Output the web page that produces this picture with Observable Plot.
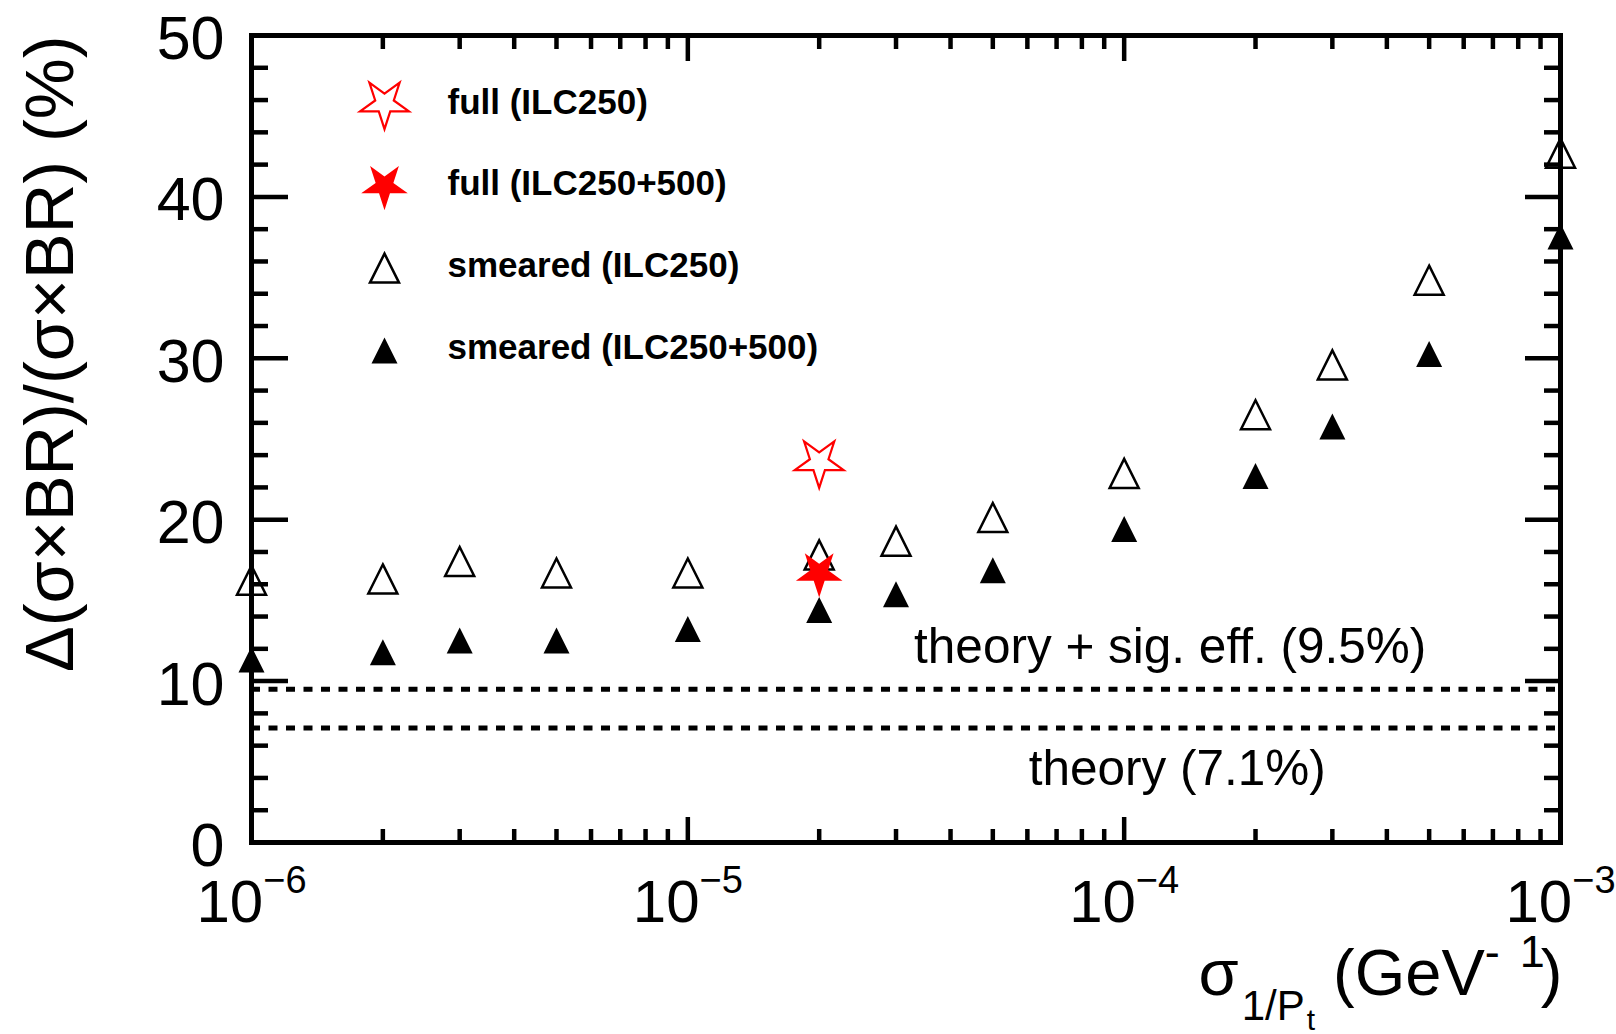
<!DOCTYPE html>
<html>
<head>
<meta charset="utf-8">
<script src="https://cdn.jsdelivr.net/npm/d3@7"></script>
<script src="https://cdn.jsdelivr.net/npm/@observablehq/plot@0.6"></script>
<style>
  html, body { margin: 0; padding: 0; background: #fff; }
  #chart svg { display: block; }
</style>
</head>
<body>
<div id="chart"></div>
<script>
// ---------------- data ----------------
const sigmaPt = [1e-6, 2e-6, 3e-6, 5e-6, 1e-5, 2e-5, 3e-5, 5e-5, 1e-4, 2e-4, 3e-4, 5e-4, 1e-3];
const smeared250 = [16.25, 16.33, 17.41, 16.70, 16.70, 17.82, 18.67, 20.14, 22.87, 26.50, 29.59, 34.84, 42.71];
const smeared250500 = [11.34, 11.78, 12.52, 12.52, 13.23, 14.41, 15.38, 16.87, 19.42, 22.70, 25.77, 30.27, 37.55];
const fullSigmaPt = [2e-5];
const full250 = [23.56];
const full250500 = [16.69];

const theoryLevels = [9.5, 7.1];
const theoryLabels = ["theory + sig. eff. (9.5%)", "theory (7.1%)"];
const theoryLabelX = [3.3e-5, 6.04e-5];
const theoryLabelY = [11.1, 3.56];

const legendLabels = ["full (ILC250)", "full (ILC250+500)", "smeared (ILC250)", "smeared (ILC250+500)"];

const yTicks = [0, 10, 20, 30, 40, 50];
const yMinorTicks = [2, 4, 6, 8, 12, 14, 16, 18, 22, 24, 26, 28, 32, 34, 36, 38, 42, 44, 46, 48];
const xDecades = [1e-6, 1e-5, 1e-4, 1e-3];
const xTickExponents = ["−6", "−5", "−4", "−3"];
const xMinorMultipliers = [2, 3, 4, 5, 6, 7, 8, 9];
const xMinorTicks = xDecades.slice(0, 3).flatMap(d => xMinorMultipliers.map(m => m * d));

const yTitle = "Δ(σ×BR)/(σ×BR) (%)";
const xTitle = "σ1/Pt (GeV-1)";

// ---------------- symbols (ROOT-like markers) ----------------
const triSymbol = {
  draw(ctx, size) {
    const r = Math.sqrt(size / Math.PI);
    ctx.moveTo(0, -r); ctx.lineTo(r, r); ctx.lineTo(-r, r); ctx.closePath();
  }
};
const starSymbol = {
  draw(ctx, size) {
    const R = Math.sqrt(size / Math.PI), k = 0.38;
    for (let i = 0; i < 10; i++) {
      const a = Math.PI / 2 + i * Math.PI / 5;
      const rr = i % 2 ? R * k : R;
      const x = rr * Math.cos(a), y = rr * Math.sin(a);
      if (i) ctx.lineTo(x, y); else ctx.moveTo(x, y);
    }
    ctx.closePath();
  }
};

const openTri = {symbol: triSymbol, r: 14.5, fill: "none", stroke: "black", strokeWidth: 2.5};
const fullTri = {symbol: triSymbol, r: 13, fill: "black", stroke: "none"};
const openStar = {symbol: starSymbol, r: 25.7, fill: "none", stroke: "#ff0000", strokeWidth: 2.2};
const fullStar = {symbol: starSymbol, r: 24.5, fill: "#ff0000", stroke: "none"};
const legendStyles = [openStar, fullStar, openTri, fullTri];

const rowsOpen = sigmaPt.map((x, i) => ({x, y: smeared250[i]}));
const rowsFull = sigmaPt.map((x, i) => ({x, y: smeared250500[i]}));
const rowsStarOpen = fullSigmaPt.map((x, i) => ({x, y: full250[i]}));
const rowsStarFull = fullSigmaPt.map((x, i) => ({x, y: full250500[i]}));

const tickStyle = {strokeWidth: 4.5, tickFormat: () => "", label: null};

const legendMarks = legendLabels.flatMap((lab, i) => [
  Plot.dot([lab], {frameAnchor: "top-left", dx: 133, dy: 68 + i * 82.3, ...legendStyles[i]}),
  Plot.text([lab], {frameAnchor: "top-left", dx: 196, dy: 78.3 + i * 81.6, text: d => d,
    textAnchor: "start", lineAnchor: "bottom", fontSize: 35, fontWeight: "bold", fill: "black"})
]);

const chart = Plot.plot({
  width: 1616,
  height: 1034,
  marginLeft: 251,
  marginRight: 56,
  marginTop: 35,
  marginBottom: 192,
  style: {fontFamily: "'Liberation Sans', Arial, Helvetica, sans-serif", background: "#fff", color: "black"},
  x: {type: "log", domain: [1e-6, 1e-3]},
  y: {domain: [0, 50]},
  marks: [
    // inward ticks on all four sides
    Plot.axisY(yTicks, {anchor: "left", tickSize: -37, ...tickStyle}),
    Plot.axisY(yMinorTicks, {anchor: "left", tickSize: -17, ...tickStyle}),
    Plot.axisY(yTicks, {anchor: "right", tickSize: -36, ...tickStyle}),
    Plot.axisY(yMinorTicks, {anchor: "right", tickSize: -17, ...tickStyle}),
    Plot.axisX(xDecades, {anchor: "bottom", tickSize: -25, ...tickStyle}),
    Plot.axisX(xMinorTicks, {anchor: "bottom", tickSize: -13, ...tickStyle}),
    Plot.axisX(xDecades, {anchor: "top", tickSize: -25, ...tickStyle}),
    Plot.axisX(xMinorTicks, {anchor: "top", tickSize: -13, ...tickStyle}),
    // tick labels
    Plot.axisY(yTicks, {anchor: "left", tickSize: 0, tickPadding: 27, fontSize: 61, dy: 4, label: null}),
    Plot.axisX(xDecades, {anchor: "bottom", tickSize: 0, tickPadding: 37, fontSize: 60, label: null,
      tickFormat: d => "10^" + xTickExponents[xDecades.indexOf(d)]}),
    // frame
    Plot.frame({stroke: "black", strokeWidth: 5}),
    // theory lines
    Plot.ruleY(theoryLevels, {stroke: "black", strokeWidth: 5, strokeDasharray: "9,8.5"}),
    Plot.text(theoryLabels, {x: (d, i) => theoryLabelX[i], y: (d, i) => theoryLabelY[i], text: d => d,
      textAnchor: "start", lineAnchor: "bottom", fontSize: 49.5, fill: "black"}),
    // data
    Plot.dot(rowsOpen, {x: "x", y: "y", ...openTri}),
    Plot.dot(rowsFull, {x: "x", y: "y", ...fullTri}),
    Plot.dot(rowsStarFull, {x: "x", y: "y", ...fullStar}),
    Plot.dot(rowsStarOpen, {x: "x", y: "y", ...openStar}),
    // legend
    ...legendMarks,
    // axis titles
    Plot.text([yTitle], {frameAnchor: "top-left", dx: -179, dy: 0, rotate: -90, text: d => d,
      textAnchor: "end", lineAnchor: "bottom", fontSize: 68.5, fill: "black"}),
    Plot.text([xTitle], {frameAnchor: "bottom-right", dx: -362, dy: 152, text: d => d,
      textAnchor: "start", lineAnchor: "bottom", fontSize: 65, fill: "black"})
  ]
});

// ---- rich text (superscripts / subscripts) ----
const NS = "http://www.w3.org/2000/svg";
function setRich(t, parts) {
  while (t.firstChild) t.removeChild(t.firstChild);
  for (const p of parts) {
    const s = document.createElementNS(NS, "tspan");
    s.textContent = p.t;
    if (p.size) s.setAttribute("font-size", p.size);
    if (p.dy) s.setAttribute("dy", p.dy);
    if (p.dx) s.setAttribute("dx", p.dx);
    t.appendChild(s);
  }
}
chart.querySelectorAll("text").forEach(t => {
  const txt = t.textContent;
  const m = /^10\^(.+)$/.exec(txt);
  if (m) {
    setRich(t, [{t: "10"}, {t: m[1], size: 38, dy: -29}]);
  } else if (txt === xTitle) {
    setRich(t, [
      {t: "σ"},
      {t: "1/P", size: 42, dy: 25, dx: 3},
      {t: "t", size: 30, dy: 10, dx: 2},
      {t: " (GeV", size: 65, dy: -35},
      {t: "-", size: 45, dy: -28},
      {t: "1", size: 45, dx: 20},
      {t: ")", size: 65, dy: 28, dx: -4}
    ]);
  }
});

document.getElementById("chart").appendChild(chart);
</script>
</body>
</html>
